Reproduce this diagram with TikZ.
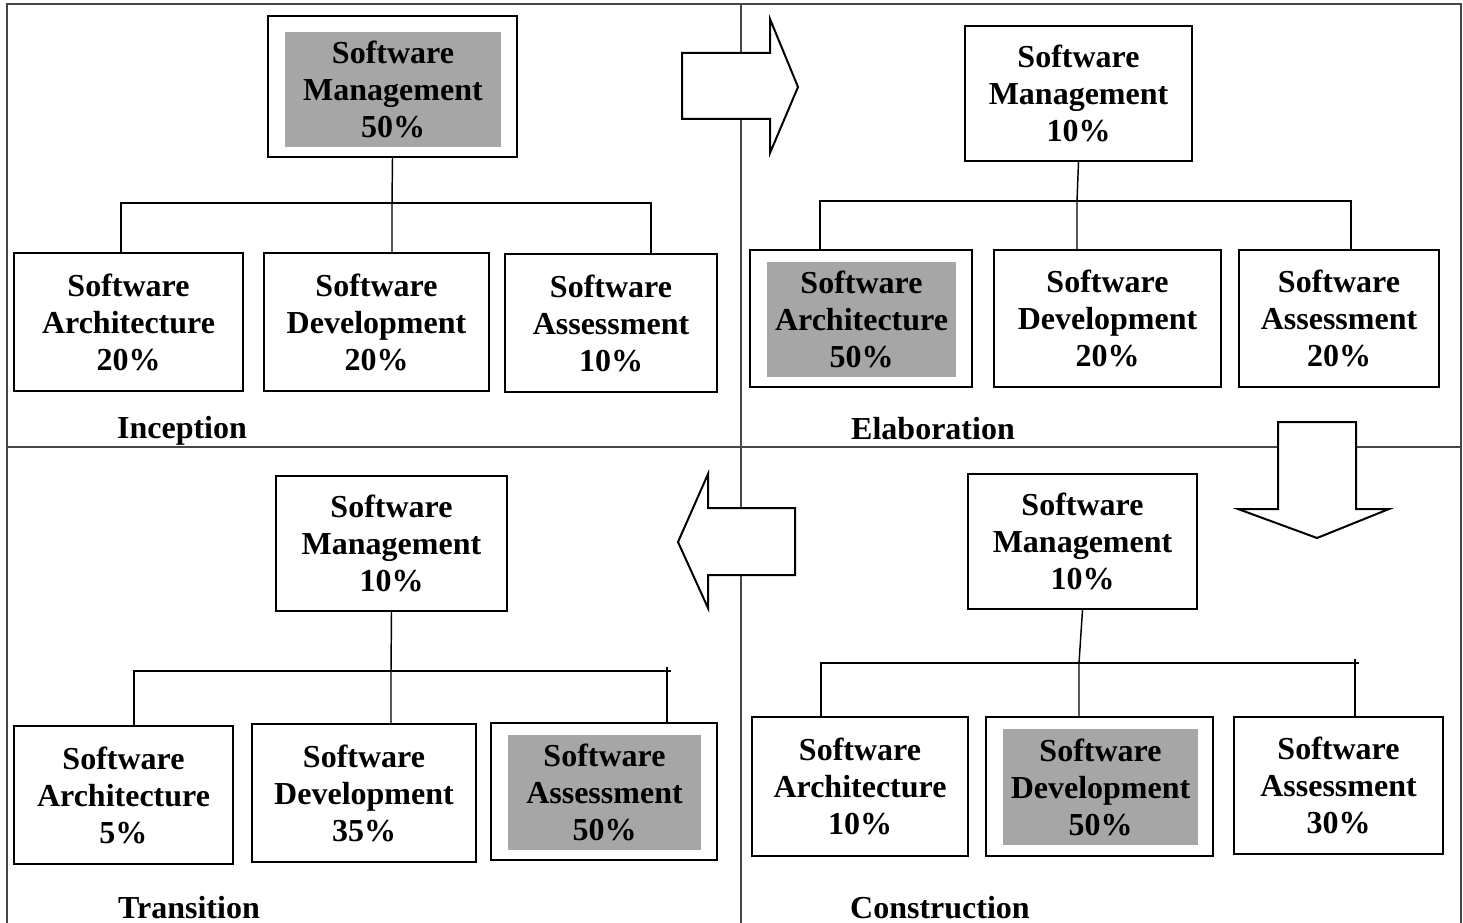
\documentclass[tikz,border=0pt]{standalone}
\usepackage{fontspec}
\setmainfont{Liberation Serif}

\definecolor{shadegray}{RGB}{166,166,166}
\definecolor{rulegray}{RGB}{70,70,70}

\tikzset{every picture/.style={line width=0.75pt}}
\tikzset{
  box/.style 2 args={draw, line width=1.5pt, minimum width=#1*0.75pt, minimum height=#2*0.75pt, inner sep=0pt},
  shadebox/.style 2 args={fill=shadegray, minimum width=#1*0.75pt, minimum height=#2*0.75pt, inner sep=0pt},
  txt/.style={font=\fontsize{24}{27.75}\selectfont\bfseries, align=center},
  link/.style={line width=1.1pt},
  bigarrow/.style={draw, fill=white, line width=1.5pt, line join=miter},
  frame/.style={draw=rulegray, line width=1.6pt},
  divider/.style={draw=rulegray, line width=1pt}
}

\begin{document}
\begin{tikzpicture}[x=0.75pt,y=0.75pt,yscale=-1,xscale=1]
\useasboundingbox (0,0) rectangle (1463,923);

%Shape: Frame and quarters
\draw[frame] (7,923) -- (7,4) -- (1461,4) -- (1461,923);
\draw[divider] (7,447) -- (1461,447);
\draw[divider] (741,4) -- (741,923);

%Shape: Block Arrows
\draw[bigarrow] (682,53) -- (770,53) -- (770,19) -- (798,87) -- (770,153) -- (770,119) -- (682,119) -- cycle;
\draw[bigarrow] (1278,422) -- (1356,422) -- (1356,509) -- (1389,509) -- (1317,538) -- (1238,509) -- (1278,509) -- cycle;
\draw[bigarrow] (795,508) -- (708,508) -- (708,474) -- (678,542) -- (708,608) -- (708,575) -- (795,575) -- cycle;

% Inception
\node[box={249}{141}] (incMgmt) at (392.5,86.5) {};
\node[shadebox={216}{115}, txt] (incMgmtTxt) at (393,89.5) {Software\\Management\\50\%};
\node[box={229}{138}, txt] (incArch) at (128.5,322) {Software\\Architecture\\20\%};
\node[box={225}{138}, txt] (incDev) at (376.5,322) {Software\\Development\\20\%};
\node[box={212}{138}, txt] (incAss) at (611,323) {Software\\Assessment\\10\%};
\coordinate (incL) at (121,203);
\coordinate (incJ) at (392,203);
\coordinate (incR) at (651,203);
\draw[link] (incMgmt.south) -- (incJ) -- (incJ |- incDev.north);
\draw[link] (incL |- incArch.north) -- (incL) -- (incR) -- (incR |- incAss.north);
% Text Node
\node[txt] (incLabel) at (182,431) {Inception};

% Elaboration
\node[box={227}{135}, txt] (elaMgmt) at (1078.5,93.5) {Software\\Management\\10\%};
\node[box={222}{137}] (elaArch) at (861,318.5) {};
\node[shadebox={189}{115}, txt] (elaArchTxt) at (861.5,319.5) {Software\\Architecture\\50\%};
\node[box={227}{137}, txt] (elaDev) at (1107.5,318.5) {Software\\Development\\20\%};
\node[box={200}{137}, txt] (elaAss) at (1339,318.5) {Software\\Assessment\\20\%};
\coordinate (elaL) at (820,201);
\coordinate (elaJ) at (1077,201);
\coordinate (elaR) at (1351,201);
\draw[link] (elaMgmt.south) -- (elaJ) -- (elaJ |- elaDev.north);
\draw[link] (elaL |- elaArch.north) -- (elaL) -- (elaR) -- (elaR |- elaAss.north);
% Text Node
\node[txt] (elaLabel) at (933,429) {Elaboration};

% Transition
\node[box={231}{135}, txt] (traMgmt) at (391.5,543.5) {Software\\Management\\10\%};
\node[box={219}{138}, txt] (traArch) at (123.5,795) {Software\\Architecture\\5\%};
\node[box={224}{138}, txt] (traDev) at (364,793) {Software\\Development\\35\%};
\node[box={226}{137}] (traAss) at (604,791.5) {};
\node[shadebox={193}{115}, txt] (traAssTxt) at (604.5,792.5) {Software\\Assessment\\50\%};
\coordinate (traL) at (134,671);
\coordinate (traJ) at (391,671);
\coordinate (traR) at (667,671);
\draw[link] (traMgmt.south) -- (traJ) -- (traJ |- traDev.north);
\draw[link] (traL |- traArch.north) -- (traL) -- ([xshift=3pt]traR);
\draw[link] ([yshift=-3pt]traR) -- (traR |- traAss.north);
% Text Node
\node[txt] (traLabel) at (189,908) {Transition};

% Construction
\node[box={229}{135}, txt] (conMgmt) at (1082.5,541.5) {Software\\Management\\10\%};
\node[box={216}{139}, txt] (conArch) at (860,786.5) {Software\\Architecture\\10\%};
\node[box={227}{139}] (conDev) at (1099.5,786.5) {};
\node[shadebox={195}{116}, txt] (conDevTxt) at (1100.5,787) {Software\\Development\\50\%};
\node[box={209}{137}, txt] (conAss) at (1338.5,785.5) {Software\\Assessment\\30\%};
\coordinate (conL) at (821,663);
\coordinate (conJ) at (1079,663);
\coordinate (conR) at (1355,663);
\draw[link] (conMgmt.south) -- (conJ) -- (conJ |- conDev.north);
\draw[link] (conL |- conArch.north) -- (conL) -- ([xshift=3pt]conR);
\draw[link] ([yshift=-3pt]conR) -- (conR |- conAss.north);
% Text Node
\node[txt] (conLabel) at (940,908) {Construction};

\end{tikzpicture}
\end{document}
